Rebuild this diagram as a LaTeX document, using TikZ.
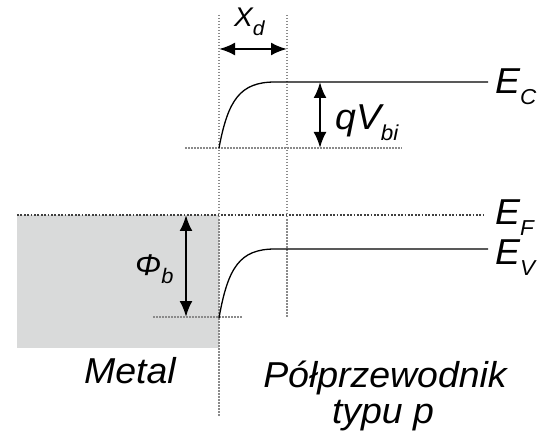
\documentclass[tikz,border=0pt]{standalone}
\usepackage{fontspec}
\setmainfont[FakeStretch=1.04]{Liberation Sans}
\usetikzlibrary{arrows.meta}
\definecolor{metalgray}{HTML}{D9DADA}
\definecolor{dotgray}{HTML}{8A8A8A}
\newcommand\lsub[2][0.6]{\raisebox{-0.3em}{\scalebox{#1}{#2}}}
\tikzset{
  lbl/.style={inner sep=0pt, font=\fontsize{36}{42}\selectfont\itshape},
  smalllbl/.style={inner sep=0pt, font=\fontsize{27}{30}\selectfont\itshape},
  band/.style={line width=1.3pt, black},
  guide/.style={line width=1.4pt, dotgray, dash pattern=on 1.5pt off 1.5pt},
  fermi/.style={line width=1.4pt, black!75, dash pattern=on 1.8pt off 1.6pt},
  dim/.style={line width=2.4pt, {Latex[length=16pt,width=13pt]}-{Latex[length=16pt,width=13pt]}},
}
\begin{document}
\begin{tikzpicture}[x=1pt,y=-1pt]
\useasboundingbox (0,0) rectangle (543,438);
% metal region
\fill[metalgray] (17,215) rectangle (219,348);
% named points
\coordinate (lt) at (219,15);
\coordinate (lb) at (219,416);
\coordinate (rt) at (287,15);
\coordinate (rb) at (287,317);
\coordinate (xdl) at (219,49);
\coordinate (xdr) at (287,49);
\coordinate (ecs) at (219,148);
\coordinate (ecf) at (275,82);
\coordinate (ece) at (488,82);
\coordinate (evs) at (219,318);
\coordinate (evf) at (275,249);
\coordinate (eve) at (488,249);
\coordinate (vbl) at (185,148);
\coordinate (vbr) at (402,148);
\coordinate (efl) at (17,215);
\coordinate (efr) at (484,215);
\coordinate (phl) at (153,317);
\coordinate (phr) at (242,317);
\coordinate (qt) at (320,82);
\coordinate (qb) at (320,148);
\coordinate (pt) at (186,215);
\coordinate (pb) at (186,317);
% guides
\draw[guide] (lt) -- (lb);
\draw[guide] (rt) -- (rb);
\draw[guide] (vbl) -- (vbr);
\draw[guide] (phl) -- (phr);
\draw[fermi] (efl) -- (efr);
% bands
\draw[band] (ecs) .. controls (228,100) and (240,82) .. (ecf) -- (ece);
\draw[band] (evs) .. controls (228,267) and (240,249) .. (evf) -- (eve);
% dimension arrows
\draw[dim] (xdl) -- (xdr);
\draw[dim] (qt) -- (qb);
\draw[dim] (pt) -- (pb);
% labels
\node[smalllbl, anchor=base west] (xd) at (234,27) {X\lsub[0.75]{d}};
\node[lbl, anchor=base west] (qv) at (335,130) {qV\lsub{bi}};
\node[lbl, anchor=base west] (ec) at (495,94) {E\lsub{C}};
\node[lbl, anchor=base west] (ef) at (495,225) {E\lsub{F}};
\node[lbl, anchor=base west] (ev) at (495,265) {E\lsub{V}};
\node[lbl, anchor=base west, font=\fontsize{30}{36}\selectfont\itshape] (phi) at (135,275) {Φ\lsub[0.7]{b}};
\node[lbl, anchor=base] (metal) at (130,383) {Metal};
\node[lbl, anchor=base] (semi) at (385,387) {Półprzewodnik};
\node[lbl, anchor=base] (typ) at (383,423) {typu p};
\end{tikzpicture}
\end{document}
